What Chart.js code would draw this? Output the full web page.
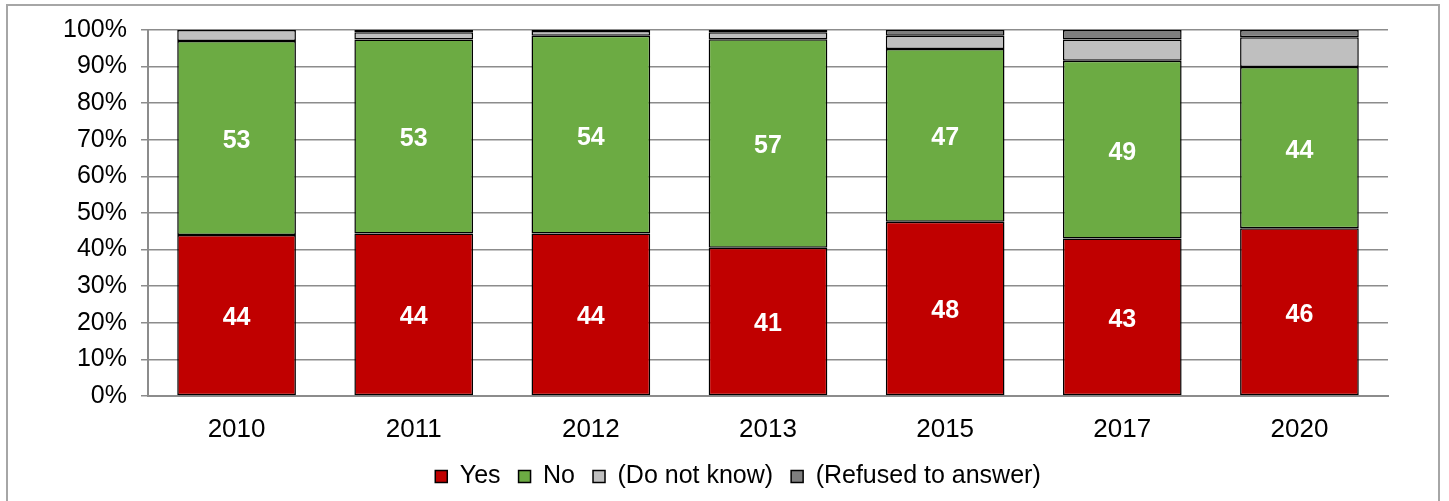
<!DOCTYPE html>
<html>
<head>
<meta charset="utf-8">
<script src="https://cdn.jsdelivr.net/npm/chart.js@4/dist/chart.umd.min.js"></script>
<style>
  html, body { margin: 0; padding: 0; background: #fff; overflow: hidden; }
  .frame {
    position: absolute; left: 6px; top: 4px; width: 1434px; height: 520px;
    border: 2px solid #a6a6a6; box-sizing: border-box;
  }
  .wrap { position: absolute; left: 0; top: 0; width: 1449px; height: 501px; }
</style>
</head>
<body>
<div class="frame"></div>
<div class="wrap"><canvas id="surveyChart"></canvas></div>
<script>
const years = ['2010', '2011', '2012', '2013', '2015', '2017', '2020'];
const yesValues = [44, 44.4, 44.4, 40.5, 47.6, 43, 45.8];
const noValues = [53, 53, 54, 57, 47.2, 48.6, 44.1];
const dontKnowValues = [3, 2, 1.3, 1.9, 3.6, 5.8, 8.1];
const refusedValues = [null, 0.6, 0.3, 0.6, 1.6, 2.6, 2];
const yTicks = [0, 10, 20, 30, 40, 50, 60, 70, 80, 90, 100];

const FONT = "'Liberation Sans', Arial, sans-serif";

// white numbers inside the Yes / No segments
const segmentLabels = {
  id: 'segmentLabels',
  afterDatasetsDraw(chart) {
    const ctx = chart.ctx;
    ctx.save();
    ctx.fillStyle = '#ffffff';
    ctx.font = `bold 25px ${FONT}`;
    ctx.textAlign = 'center';
    ctx.textBaseline = 'middle';
    [0, 1].forEach(i => {
      const meta = chart.getDatasetMeta(i);
      meta.data.forEach((bar, j) => {
        const value = chart.data.datasets[i].data[j];
        const y = (bar.y + bar.base) / 2 + 3;
        ctx.fillText(String(Math.round(value)), bar.x, y);
      });
    });
    ctx.restore();
  }
};

// legend sits a little right of the canvas centre in the original
const legendShift = {
  id: 'legendShift',
  afterLayout(chart) {
    chart.legend.left += 44;
    chart.legend.right += 44;
  }
};

function makeDataset(label, data, color) {
  return {
    label,
    data,
    backgroundColor: color,
    borderColor: '#000000',
    borderWidth: 1.5,
    borderSkipped: false,
    categoryPercentage: 0.67,
    barPercentage: 1
  };
}

new Chart(document.getElementById('surveyChart'), {
  type: 'bar',
  data: {
    labels: years,
    datasets: [
      makeDataset('Yes', yesValues, '#c00000'),
      makeDataset('No', noValues, '#6cab43'),
      makeDataset('(Do not know)', dontKnowValues, '#bfbfbf'),
      makeDataset('(Refused to answer)', refusedValues, '#7f7f7f')
    ]
  },
  options: {
    responsive: true,
    maintainAspectRatio: false,
    animation: false,
    devicePixelRatio: 1,
    layout: {
      padding: { left: 0, right: 61, top: 30, bottom: 2 }
    },
    plugins: {
      tooltip: { enabled: false },
      legend: {
        position: 'bottom',
        labels: {
          color: '#000000',
          font: { family: FONT, size: 25 },
          boxWidth: 12,
          boxHeight: 12,
          padding: 18,
          useBorderRadius: false
        }
      }
    },
    scales: {
      x: {
        stacked: true,
        grid: { display: false },
        border: { display: true, color: '#8c8c8c', width: 2 },
        ticks: {
          color: '#000000',
          font: { family: FONT, size: 26 },
          padding: 10
        },
        afterFit(scale) { scale.height = 50; }
      },
      y: {
        stacked: true,
        min: 0,
        max: 100,
        afterBuildTicks(scale) {
          scale.ticks = yTicks.map(v => ({ value: v }));
        },
        grid: {
          color: '#8c8c8c',
          lineWidth: 1.5,
          drawTicks: true,
          tickLength: 7
        },
        border: { display: true, color: '#8c8c8c', width: 2 },
        ticks: {
          color: '#000000',
          font: { family: FONT, size: 25 },
          padding: 14,
          callback: value => value + '%'
        },
        afterFit(scale) { scale.width = 148; }
      }
    }
  },
  plugins: [segmentLabels, legendShift]
});
</script>
</body>
</html>
